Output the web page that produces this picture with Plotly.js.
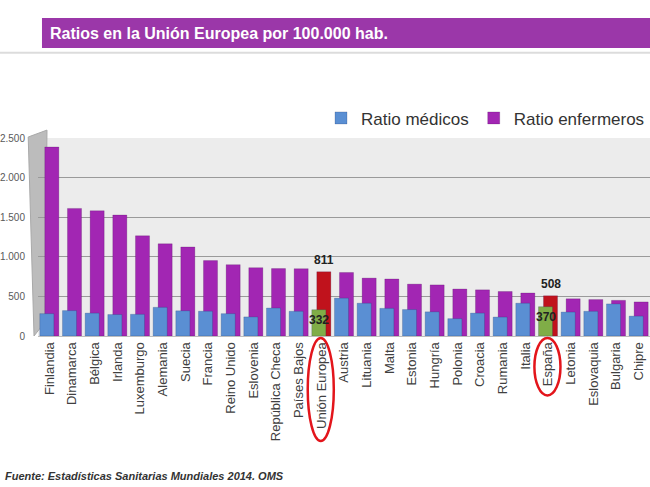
<!DOCTYPE html>
<html><head><meta charset="utf-8">
<script src="https://cdn.plot.ly/plotly-3.0.1.min.js"></script>
<style>
html,body{margin:0;padding:0;overflow:hidden;background:#fff;width:650px;height:487px}
#chart{width:650px;height:487px}
</style>
</head><body><div id="chart"></div>
<script>
const countries = ['Finlandia','Dinamarca','Bélgica','Irlanda','Luxemburgo','Alemania','Suecia','Francia','Reino Unido','Eslovenia','República Checa','Países Bajos','Unión Europea','Austria','Lituania','Malta','Estonia','Hungría','Polonia','Croacia','Rumania','Italia','España','Letonia','Eslovaquia','Bulgaria','Chipre'];
const ratioMedicos = [282,321,289,271,274,362,318,313,282,241,353,312,332,478,414,349,334,305,219,289,239,414,370,302,312,405,251];
const ratioEnfermeros = [2386,1611,1581,1527,1265,1164,1124,952,901,863,851,850,811,802,731,720,655,645,593,583,562,543,508,470,460,450,430];
const highlighted = ['Unión Europea','España'];
const yTickVals = [0,500,1000,1500,2000,2500];
const yTickText = ['0','500','1.000','1.500','2.000','2.500'];
const titleText = 'Ratios en la Unión Europea por 100.000 hab.';
const sourceText = 'Fuente: Estadísticas Sanitarias Mundiales 2014. OMS';

const BLUE='#5A8FD3', PURPLE='#A226B3', RED='#C0121C', GREEN='#80AD47';
const medColors = countries.map(c => highlighted.includes(c) ? GREEN : BLUE);
const enfColors = countries.map(c => highlighted.includes(c) ? RED : PURPLE);

const traces = [
  {type:'bar', name:'Ratio enfermeros', x:countries, y:ratioEnfermeros,
   marker:{color:enfColors, line:{color:'rgba(60,0,70,0.35)', width:0.6}},
   width:0.62, offset:-0.2, hoverinfo:'skip'},
  {type:'bar', name:'Ratio médicos', x:countries, y:ratioMedicos,
   marker:{color:medColors, line:{color:'rgba(20,40,90,0.35)', width:0.6}},
   width:0.62, offset:-0.42, hoverinfo:'skip'}
];

const annotations = [];
highlighted.forEach(c => {
  const i = countries.indexOf(c);
  annotations.push({x:c, y:ratioEnfermeros[i], xref:'x', yref:'y', text:'<b>'+ratioEnfermeros[i]+'</b>',
    showarrow:false, yanchor:'bottom', xshift:2.5, yshift:3, font:{size:12, color:'#222', family:'Liberation Sans, Arial'}});
  annotations.push({x:c, y:ratioMedicos[i], xref:'x', yref:'y', text:'<b>'+ratioMedicos[i]+'</b>',
    showarrow:false, yanchor:'top', xshift:-2.5, yshift:-1, font:{size:12, color:'#222', family:'Liberation Sans, Arial'}});
});
annotations.push({xref:'paper', yref:'paper', x:0.0163, y:1.530, xanchor:'left', yanchor:'middle',
  text:'<b>'+titleText+'</b>', showarrow:false, font:{size:16, color:'#ffffff', family:'Liberation Sans, Arial'}});
annotations.push({xref:'paper', yref:'paper', x:-0.058, y:-0.707, xanchor:'left', yanchor:'middle',
  text:'<b><i>'+sourceText+'</i></b>', showarrow:false, font:{size:11, color:'#333', family:'Liberation Sans, Arial'}});

const shapes = [
  {type:'rect', xref:'paper', yref:'paper', x0:0.0065, x1:1.0, y0:1.4545, y1:1.606, fillcolor:'#9B37A9', line:{width:0}, layer:'below'},
  {type:'line', xref:'paper', yref:'paper', x0:-0.07, x1:1.0, y0:1.43, y1:1.43, line:{color:'#dcdcdc', width:2}},
  {type:'path', xref:'paper', yref:'paper', layer:'below',
   path:'M -0.016 1.005 L 0.0147 1.040 L 0.0114 0.0707 L -0.0065 0 Z',
   fillcolor:'#bcbcbc', line:{color:'#a9a9a9', width:1}},
  {type:'circle', xref:'x', yref:'paper', x0:countries.indexOf('Unión Europea')-0.6, x1:countries.indexOf('Unión Europea')+0.55,
   y0:-0.53, y1:-0.01, line:{color:'#E3151B', width:2.5}},
  {type:'circle', xref:'x', yref:'paper', x0:countries.indexOf('España')-0.6, x1:countries.indexOf('España')+0.55,
   y0:-0.30, y1:-0.01, line:{color:'#E3151B', width:2.5}}
];

const layout = {
  width:650, height:487,
  margin:{l:38, r:0, t:138, b:151},
  paper_bgcolor:'#ffffff', plot_bgcolor:'#ececec',
  barmode:'overlay',
  font:{family:'Liberation Sans, Arial', color:'#333'},
  showlegend:true,
  legend:{orientation:'h', x:1.0, xanchor:'right', y:1.19, yanchor:'top', traceorder:'reversed',
    font:{size:17, color:'#333'}, bgcolor:'rgba(0,0,0,0)'},
  xaxis:{type:'category', tickangle:-90, tickfont:{size:13, color:'#404040'}, showgrid:false,
    ticks:'', showline:true, linecolor:'#bdbdbd', range:[-0.5, countries.length-0.5]},
  yaxis:{range:[0,2500], tickvals:yTickVals, ticktext:yTickText, tickfont:{size:10, color:'#595959'},
    showgrid:true, gridcolor:'#9a9a9a', gridwidth:1, zeroline:true, zerolinecolor:'#9a9a9a',
    ticks:'', ticklabelstandoff:12, showline:false},
  annotations:annotations, shapes:shapes
};
Plotly.newPlot('chart', traces, layout, {displayModeBar:false, staticPlot:true});
</script>
</body></html>
